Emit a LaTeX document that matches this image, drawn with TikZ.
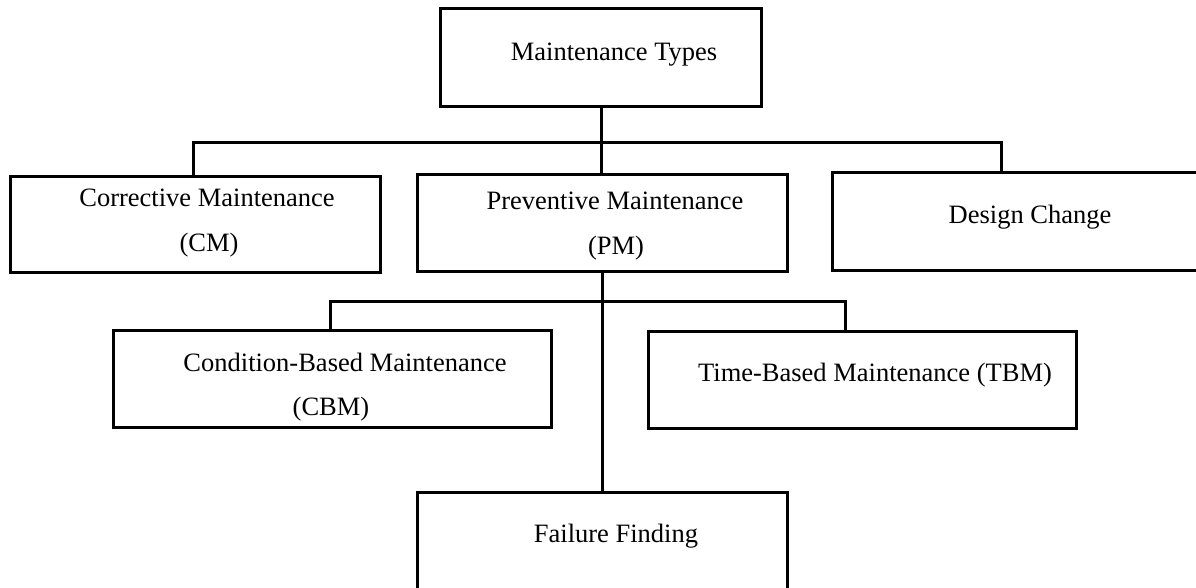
\documentclass[tikz,border=0pt]{standalone}
\usepackage{fontspec}
\setmainfont{Liberation Serif}
\begin{document}
\begin{tikzpicture}[x=0.5pt,y=-0.5pt,
  box/.style={draw,line width=1.5pt,rectangle,inner sep=0pt},
  lbl/.style={anchor=base,inner sep=0pt,font=\fontsize{13.25}{15}\selectfont},
  wire/.style={line width=1.5pt}]
\useasboundingbox (0,0) rectangle (1196,588);

% boxes
\node[box,minimum width=160.5pt,minimum height=49pt] (mt)  at (601,58)    {};
\node[box,minimum width=185pt,minimum height=48pt]   (cm)  at (195,225)   {};
\node[box,minimum width=185pt,minimum height=48.5pt] (pm)  at (602,223.5) {};
\node[box,minimum width=189pt,minimum height=49pt]   (dc)  at (1021,222)  {};
\node[box,minimum width=219pt,minimum height=48.5pt] (cbm) at (332,379.5) {};
\node[box,minimum width=214pt,minimum height=48.5pt] (tbm) at (862,380.5) {};
\node[box,minimum width=185pt,minimum height=53.5pt] (ff)  at (602,546.5) {};

% labels
\node[lbl] (mtA)  at (614,61)  {Maintenance Types};
\node[lbl] (cmA)  at (207,207) {Corrective Maintenance};
\node[lbl] (cmB)  at (209,252) {(CM)};
\node[lbl] (pmA)  at (615,210) {Preventive Maintenance};
\node[lbl] (pmB)  at (616,255) {(PM)};
\node[lbl] (dcA)  at (1030,224) {Design Change};
\node[lbl] (cbmA) at (345,372) {Condition-Based Maintenance};
\node[lbl] (cbmB) at (331,416) {(CBM)};
\node[lbl] (tbmA) at (875,382) {Time-Based Maintenance (TBM)};
\node[lbl] (ffA)  at (616,543) {Failure Finding};

% branch points
\coordinate (cmdrop)  at (193,143);
\coordinate (dcdrop)  at (1001,143);
\coordinate (cbmdrop) at (330,302);
\coordinate (tbmdrop) at (845,302);

% connectors
\draw[wire] (mt.south) -- (mt.south |- pm.north);
\draw[wire] (cmdrop |- cm.north) -- (cmdrop) -- (dcdrop) -- (dcdrop |- dc.north);
\draw[wire] (pm.south) -- (ff.north);
\draw[wire] (cbmdrop |- cbm.north) -- (cbmdrop) -- (tbmdrop) -- (tbmdrop |- tbm.north);
\end{tikzpicture}
\end{document}
